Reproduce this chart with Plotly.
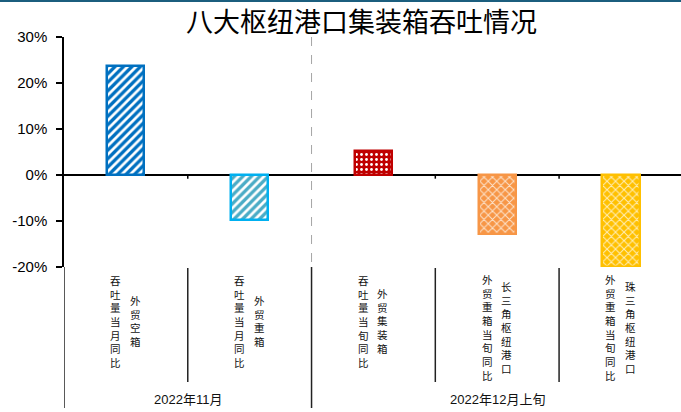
import plotly.graph_objects as go

# ---------------- data ----------------
categories = ["外贸空箱吞吐量当月同比", "外贸重箱吞吐量当月同比", "外贸集装箱吞吐量当旬同比",
              "长三角枢纽港口外贸重箱当旬同比", "珠三角枢纽港口外贸重箱当旬同比"]
label_right_col = ["外贸空箱", "外贸重箱", "外贸集装箱", "长三角枢纽港口", "珠三角枢纽港口"]
label_left_col = ["吞吐量当月同比", "吞吐量当月同比", "吞吐量当旬同比", "外贸重箱当旬同比", "外贸重箱当旬同比"]
values = [23.7, -9.7, 5.3, -12.9, -20.0]
groups = ["2022年11月", "2022年12月上旬"]
group_span = [(0, 1), (2, 4)]
y_ticks = [-20, -10, 0, 10, 20, 30]
y_tick_text = ["-20%", "-10%", "0%", "10%", "20%", "30%"]
title = "八大枢纽港口集装箱吞吐情况"

# ---------------- styles ----------------
border_colors = ["#0070C0", "#00B0F0", "#C00000", "#F79646", "#FFC000"]
bg_colors = ["#0070C0", "#4BACC6", "#C00000", "#F79646", "#FFC000"]
shapes_pat = ["/", "/", ".", "x", "x"]
fg_colors = ["#FFFFFF", "#FFFFFF", "#FFFFFF", "#FDE3CC", "#FFEFB8"]
pat_size = [6, 6, 5, 6, 6]
solidity = [0.45, 0.45, 0.25, 0.3, 0.3]

W, H = 681, 412
PLOT_TOP, PLOT_BOT = 37, 267
PLOT_H = PLOT_BOT - PLOT_TOP


def py(Y):
    return (PLOT_BOT - Y) / PLOT_H


x = list(range(len(categories)))

fig = go.Figure()
for i in x:
    fig.add_trace(go.Bar(
        x=[i], y=[values[i]], width=0.30,
        marker=dict(color=bg_colors[i],
                    line=dict(color=border_colors[i], width=2.5),
                    pattern=dict(shape=shapes_pat[i], fgcolor=fg_colors[i], bgcolor=bg_colors[i],
                                 size=pat_size[i], solidity=solidity[i], fillmode="replace")),
        showlegend=False, hoverinfo="skip"))

shapes = []
# top border line
shapes.append(dict(type="line", xref="paper", yref="paper", x0=-0.2, x1=1.2, y0=py(1), y1=py(1),
                   line=dict(color="#1B5E7E", width=2)))
# small ticks on zero line at category boundaries and label dividers
for b in [0.5, 2.5, 3.5]:
    shapes.append(dict(type="line", xref="x", yref="y", x0=b, x1=b, y0=0, y1=-0.8,
                       line=dict(color="black", width=1.5)))
    shapes.append(dict(type="line", xref="x", yref="paper", x0=b, x1=b, y0=py(268), y1=py(382),
                       line=dict(color="#222222", width=1.5)))
# group boundary
shapes.append(dict(type="line", xref="x", yref="y", x0=1.5, x1=1.5, y0=30, y1=-20,
                   line=dict(color="#A6A6A6", width=1, dash="dash")))
for b in [-0.5, 1.5]:
    shapes.append(dict(type="line", xref="x", yref="paper", x0=b, x1=b, y0=py(267), y1=py(408),
                       line=dict(color="#222222", width=1.5)))

annotations = []
REF_PITCH = 12.6
TOP_TXT = 277
for i in x:
    cols = [(label_left_col[i], -10), (label_right_col[i], 9.5)]
    nmax = max(len(c[0]) for c in cols)
    center = TOP_TXT + nmax * REF_PITCH / 2
    for txt, dx in cols:
        annotations.append(dict(x=i, xref="x", y=py(center), yref="paper", text="<br>".join(txt),
                                showarrow=False, xshift=dx, xanchor="center", yanchor="middle",
                                align="center",
                                font=dict(family="Noto Sans CJK SC", size=10.5, color="#111111")))
for g, (a, b) in zip(groups, group_span):
    annotations.append(dict(x=(a + b) / 2, xref="x", y=py(399), yref="paper", text=g,
                            showarrow=False, xanchor="center", yanchor="middle",
                            font=dict(family="Liberation Sans, Noto Sans CJK SC", size=13, color="#111111")))

fig.update_layout(
    width=W, height=H,
    margin=dict(l=64, r=0, t=PLOT_TOP, b=H - PLOT_BOT),
    paper_bgcolor="white", plot_bgcolor="white",
    title=dict(text=title, x=361.5 / W, xref="container", xanchor="center",
               y=1 - 23 / H, yref="container", yanchor="middle",
               font=dict(family="Noto Sans CJK SC", size=27, color="black")),
    xaxis=dict(range=[-0.5, -0.5 + 617 / 123.77], showticklabels=False, ticks="",
               showline=False, showgrid=False, zeroline=False, fixedrange=True),
    yaxis=dict(range=[-20, 30], tickvals=y_ticks, ticktext=y_tick_text,
               ticks="outside", ticklen=6, tickwidth=1.5, tickcolor="black",
               showline=True, linecolor="black", linewidth=1.5,
               showgrid=False, zeroline=True, zerolinecolor="black", zerolinewidth=1.5,
               layer="above traces", ticklabelstandoff=6,
               tickfont=dict(family="Liberation Sans, Arial", size=15, color="black")),
    shapes=shapes, annotations=annotations, bargap=0,
)

fig.write_html("out.html")
